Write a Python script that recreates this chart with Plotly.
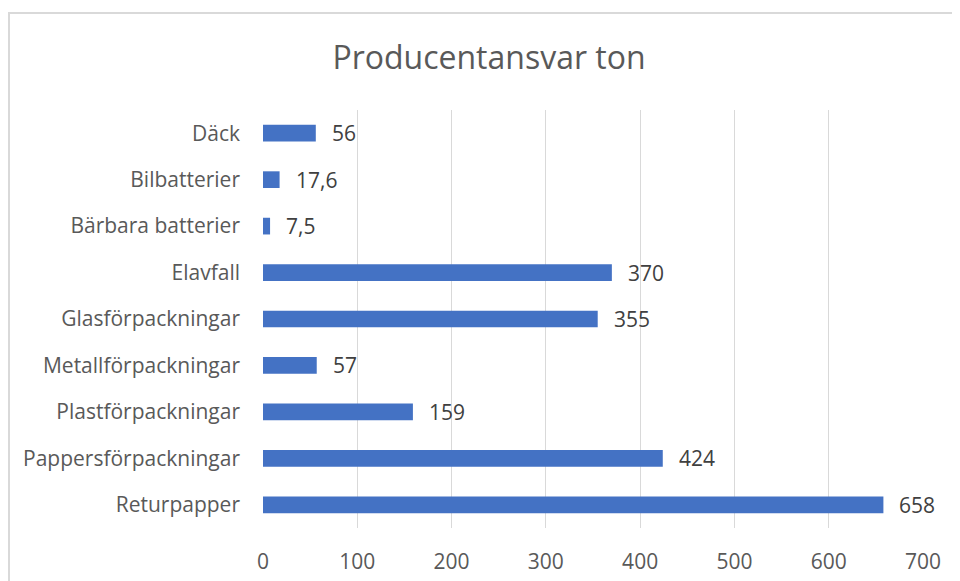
import plotly.graph_objects as go

categories = ["Returpapper", "Pappersförpackningar", "Plastförpackningar", "Metallförpackningar",
              "Glasförpackningar", "Elavfall", "Bärbara batterier", "Bilbatterier", "Däck"]
values = [658, 424, 159, 57, 355, 370, 7.5, 17.6, 56]
value_labels = ["658", "424", "159", "57", "355", "370", "7,5", "17,6", "56"]
x_ticks = [0, 100, 200, 300, 400, 500, 600, 700]

FONT = "Open Sans"
GREY = "#595959"

fig = go.Figure()
fig.add_trace(go.Bar(
    y=categories, x=values, orientation="h",
    marker=dict(color="#4472C4", line=dict(width=0)),
    width=0.36, hoverinfo="skip",
))

for v, c, t in zip(values, categories, value_labels):
    fig.add_annotation(x=v, y=c, text=t, showarrow=False, xanchor="left", xshift=14,
                       font=dict(family=FONT, size=21, color="#404040"))

fig.add_shape(type="rect", xref="paper", yref="paper",
              x0=-254/660, x1=1.2, y0=-0.3, y1=1 + 97/418,
              line=dict(color="#d9d9d9", width=2), layer="below")

fig.update_layout(
    width=952, height=573,
    margin=dict(l=255, r=37, t=102, b=53, autoexpand=False),
    paper_bgcolor="white", plot_bgcolor="white",
    title=dict(text="Producentansvar ton", x=481/952, xanchor="center", xref="container",
               y=1 - 50/573, yanchor="middle", yref="container",
               font=dict(family=FONT, size=32, color=GREY)),
    showlegend=False,
    bargap=0.64,
    xaxis=dict(range=[0, 700], tickvals=x_ticks, showgrid=True, gridcolor="#d9d9d9", gridwidth=1,
               zeroline=False, showline=False, ticks="", ticklabelstandoff=19, automargin=False,
               tickfont=dict(family=FONT, size=21, color=GREY)),
    yaxis=dict(showgrid=False, zeroline=False, showline=False, ticks="", ticklabelstandoff=22,
               automargin=False,
               tickfont=dict(family=FONT, size=21, color=GREY)),
)

fig.write_html("out.html")
